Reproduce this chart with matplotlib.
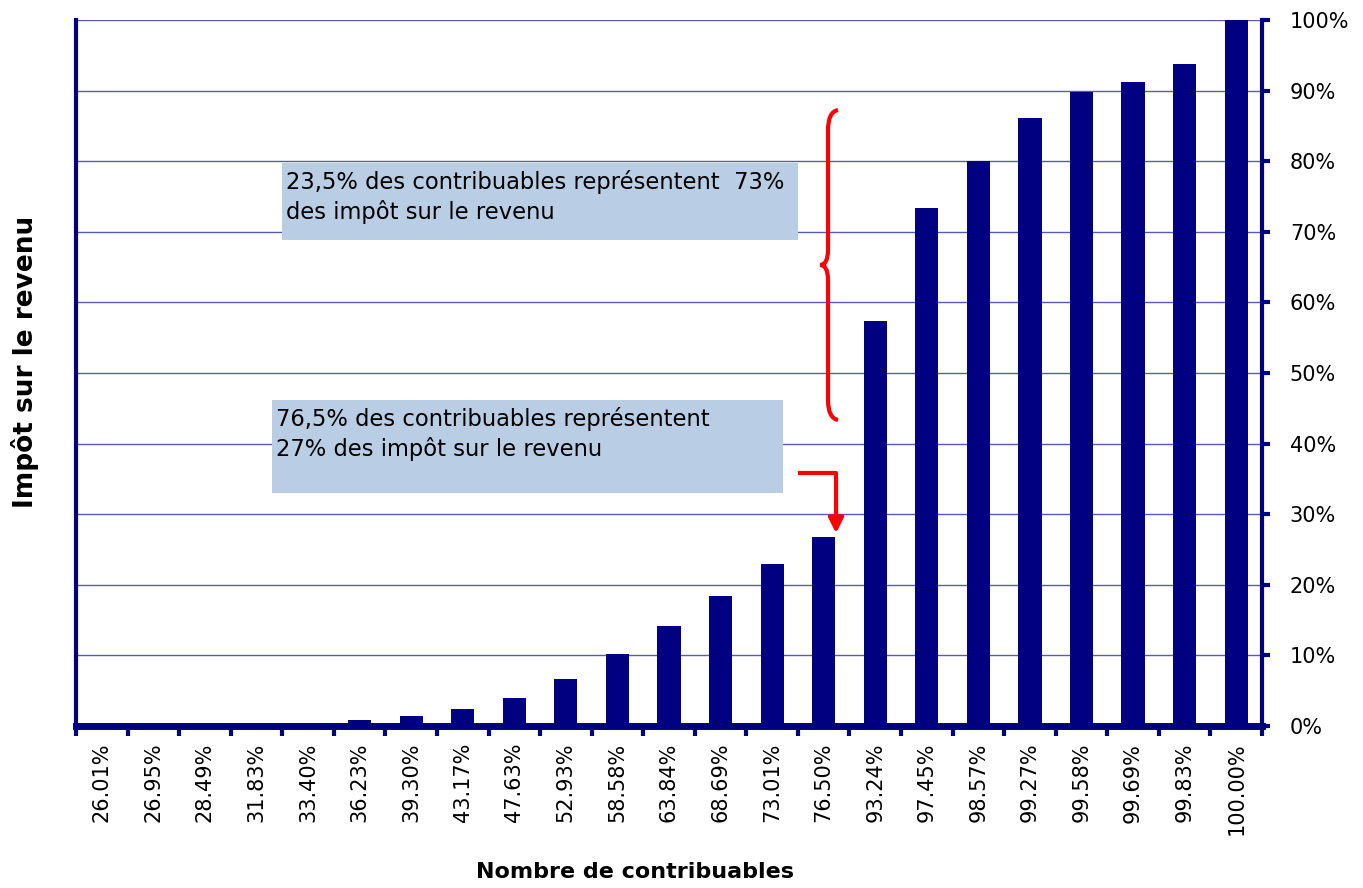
import matplotlib
matplotlib.use("Agg")
import matplotlib.pyplot as plt
from matplotlib.patches import Rectangle, PathPatch, FancyArrowPatch
from matplotlib.path import Path
from matplotlib.lines import Line2D
from matplotlib.ticker import PercentFormatter

# cumulative share of taxpayers (x categories)
contribuables = ["26.01%", "26.95%", "28.49%", "31.83%", "33.40%", "36.23%",
                 "39.30%", "43.17%", "47.63%", "52.93%", "58.58%", "63.84%",
                 "68.69%", "73.01%", "76.50%", "93.24%", "97.45%", "98.57%",
                 "99.27%", "99.58%", "99.69%", "99.83%", "100.00%"]
# cumulative share of income tax (%)
impot = [0.05, 0.05, 0.05, 0.05, 0.3, 0.8, 1.4, 2.4, 4.0, 6.6, 10.2, 14.2,
         18.4, 22.9, 26.8, 57.4, 73.4, 80.0, 86.1, 89.8, 91.2, 93.8, 100.0]
y_ticks = [0, 10, 20, 30, 40, 50, 60, 70, 80, 90, 100]

note_haut = "23,5% des contribuables représentent  73%\ndes impôt sur le revenu"
note_bas = "76,5% des contribuables représentent\n27% des impôt sur le revenu"

navy = "#000080"
W, H = 1363, 888

fig = plt.figure(figsize=(W / 100, H / 100), dpi=100)
ax = fig.add_axes([76 / W, 1 - 726 / H, (1262 - 76) / W, (726 - 20) / H])

x = list(range(len(contribuables)))
ax.bar(x, impot, width=0.45, color=navy, zorder=3)

ax.set_xlim(-0.5, len(contribuables) - 0.5)
ax.set_ylim(0, 100)

# gridlines
ax.set_yticks(y_ticks)
ax.yaxis.grid(True, color="#5a5ab4", linewidth=1)
ax.set_axisbelow(True)

ax.yaxis.tick_right()
ax.yaxis.set_major_formatter(PercentFormatter(decimals=0))
ax.tick_params(axis="y", direction="out", length=6, width=3, color=navy,
               labelsize=15, pad=14)

ax.set_xticks(x)
ax.set_xticklabels(contribuables, rotation=90, fontsize=15)
ax.set_xticks([i - 0.5 for i in range(len(contribuables) + 1)], minor=True)
ax.tick_params(axis="x", which="major", length=0, pad=12)
ax.tick_params(axis="x", which="minor", direction="out", length=7, width=3,
               color=navy)

ax.spines["top"].set_visible(False)
ax.spines["left"].set_color(navy)
ax.spines["left"].set_linewidth(3)
ax.spines["right"].set_color(navy)
ax.spines["right"].set_linewidth(3)
ax.spines["bottom"].set_color(navy)
ax.spines["bottom"].set_linewidth(5)

fig.text(25 / W, 1 - 362 / H, "Impôt sur le revenu", rotation=90,
         fontsize=19, fontweight="bold", ha="center", va="center")
fig.text(635 / W, 1 - 872 / H, "Nombre de contribuables",
         fontsize=16, fontweight="bold", ha="center", va="center")


def px(xp, yp):
    return (xp / W, 1 - yp / H)


# annotation boxes
for (x0, y0, x1, y1), txt in [((282, 163, 798, 240), note_haut),
                              ((272, 400, 783, 493), note_bas)]:
    fig.add_artist(Rectangle(px(x0, y1), (x1 - x0) / W, (y1 - y0) / H,
                             transform=fig.transFigure, facecolor="#b9cde5",
                             edgecolor="none", zorder=4))
    fig.text((x0 + 4) / W, 1 - (y0 + 7) / H, txt, fontsize=16.3, ha="left",
             va="top", linespacing=1.3, zorder=5)

# curly brace
verts = [px(838, 110), px(828, 112), px(828, 130), px(828, 250),
         px(828, 265), px(820, 265), px(828, 265), px(828, 280),
         px(828, 400), px(828, 418), px(838, 420)]
codes = [Path.MOVETO, Path.CURVE3, Path.CURVE3, Path.LINETO,
         Path.CURVE3, Path.CURVE3, Path.CURVE3, Path.CURVE3,
         Path.LINETO, Path.CURVE3, Path.CURVE3]
fig.add_artist(PathPatch(Path(verts, codes), transform=fig.transFigure,
                         facecolor="none", edgecolor="red", linewidth=3,
                         zorder=6))

# arrow to the 76.50% bar
p0, p1, p2 = px(800, 473), px(836, 473), px(836, 505)
fig.add_artist(Line2D([p0[0], p1[0], p2[0]], [p0[1], p1[1], p2[1]],
                      transform=fig.transFigure, color="red", linewidth=3,
                      zorder=6))
fig.add_artist(FancyArrowPatch(px(836, 500), px(836, 536),
                               transform=fig.transFigure, color="red",
                               arrowstyle="-|>", mutation_scale=22,
                               linewidth=3, zorder=6))

fig.savefig("out.png", dpi=100)
